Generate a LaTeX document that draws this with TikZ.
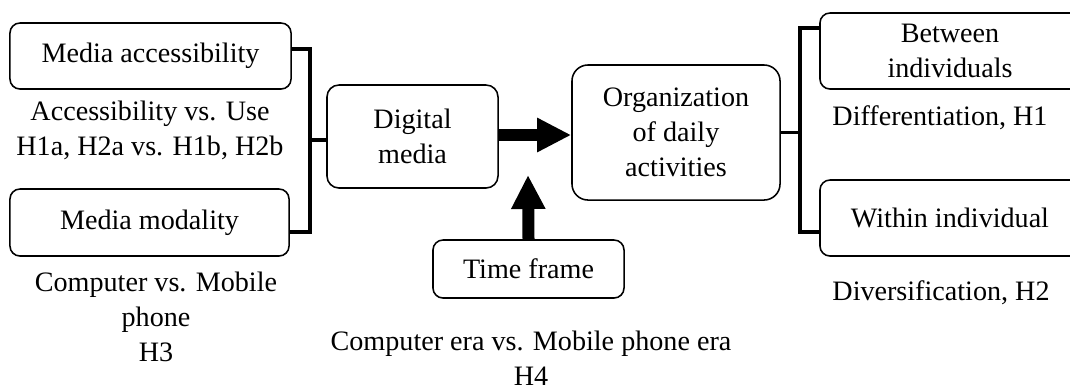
\documentclass[tikz,border=0pt]{standalone}
\usepackage{fontspec}
\setmainfont{Liberation Serif}
\usetikzlibrary{positioning}
\usetikzlibrary{arrows.meta}

\tikzset{
  box/.style={draw, line width=1.1pt, rounded corners=0.25cm, align=center, inner sep=2pt},
  bracket/.style={line width=2.6pt, line join=miter},
  fat/.style={line width=0.3cm, -{Triangle[width=0.8cm,length=0.85cm]}},
}

\begin{document}
\begin{tikzpicture}[x=0.025cm, y=-0.025cm, font=\fontsize{20}{25}\selectfont]
  \clip (0,0) rectangle (1070,391);

  % left side: the two media factors
  \node[box, minimum width=7.025cm, minimum height=1.65cm] (acc) at (150.5,56) {Media accessibility};
  \node (accnote) at (150,130.5) [align=center] {Accessibility vs. Use\\H1a, H2a vs. H1b, H2b};
  \node[box, minimum width=6.975cm, minimum height=1.675cm] (mod) at (149.5,222.5) {Media modality};
  \node (modnote) at (156,317) [align=center] {Computer vs. Mobile\\phone\\H3};

  % middle
  \node[box, rounded corners=0.3cm, minimum width=4.275cm, minimum height=2.575cm] (dig) at (412.5,136.5) {Digital\\media};
  \node[box, rounded corners=0.4cm, minimum width=5.2cm, minimum height=3.375cm] (org) at (676,132.5) {Organization\\of daily\\activities};
  \node[box, minimum width=4.775cm, minimum height=1.45cm] (time) at (528.5,269) {Time frame};
  \node (timenote) at (531,358.5) [align=center] {Computer era vs. Mobile phone era\\H4};

  % right side: the two outcomes
  \node[box, minimum width=6.5cm, minimum height=1.9cm] (betw) at (950,51) {Between\\individuals};
  \node (diffnote) at (940,118) {Differentiation, H1};
  \node[box, minimum width=6.5cm, minimum height=1.9cm] (with) at (950,218) {Within individual};
  \node (divnote) at (941,293) {Diversification, H2};

  % brackets
  \coordinate (lb) at (310,140);
  \draw[bracket] ([yshift=0.175cm]acc.east) -| (lb) |- ([yshift=-0.24cm]mod.east);
  \draw[bracket] (lb) -- (dig.west |- lb);
  \coordinate (rb) at (800,132.5);
  \draw[bracket] ([yshift=0.575cm]betw.west) -| (rb) |- ([yshift=-0.35cm]with.west);
  \draw[bracket] (org.east) -- (rb);

  % arrows
  \draw[fat] (dig.east |- 0,135) -- (org.west |- 0,135);
  \coordinate (tf) at (528,175);
  \draw[fat] (time.north) -- (tf);
\end{tikzpicture}
\end{document}
